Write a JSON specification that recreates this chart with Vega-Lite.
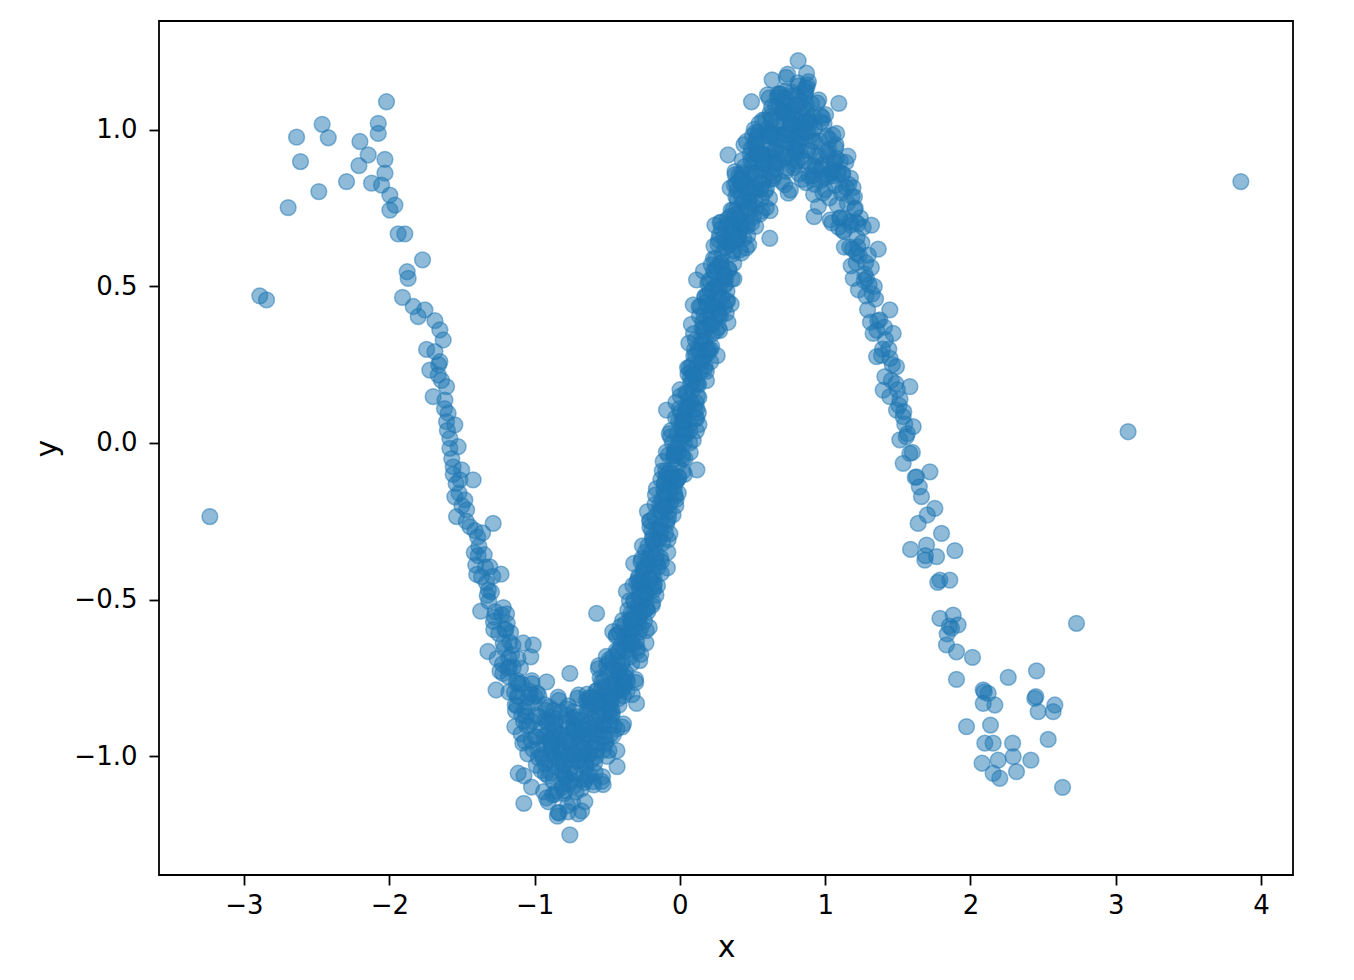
{
"$schema":"https://vega.github.io/schema/vega-lite/v6.json",
"width":1134,"height":854,
"autosize":{"type":"none"},
"padding":{"left":159,"top":21,"right":61,"bottom":105},
"background":"white",
"config":{"view":{"stroke":"#000","strokeWidth":1.8},"font":"DejaVu Sans",
"axis":{"domain":false,"grid":false,"tickColor":"#000","tickWidth":1.8,"tickSize":10,"labelFont":"DejaVu Sans","labelFontSize":26,"labelColor":"#000","titleFont":"DejaVu Sans","titleFontSize":30,"titleFontWeight":"normal","titleColor":"#000"}},
"data":{"values":[
{"x":-2.019,"y":1.090},{"x":-2.076,"y":1.021},{"x":-2.076,"y":0.989},{"x":-2.462,"y":1.018},{"x":-2.420,"y":0.975},{"x":-2.638,"y":0.977},{"x":-2.611,"y":0.899},{"x":-2.202,"y":0.963},{"x":-2.145,"y":0.920},{"x":-2.209,"y":0.886},{"x":-2.030,"y":0.906},{"x":-2.030,"y":0.862},{"x":-2.294,"y":0.835},{"x":-2.122,"y":0.830},{"x":-2.053,"y":0.824},{"x":-2.485,"y":0.803},{"x":-1.996,"y":0.792},{"x":-1.961,"y":0.760},{"x":-1.996,"y":0.744},{"x":-2.696,"y":0.752},{"x":-1.939,"y":0.668},{"x":-1.893,"y":0.668},{"x":-1.771,"y":0.585},{"x":-1.877,"y":0.547},{"x":-1.870,"y":0.526},{"x":-2.891,"y":0.470},{"x":-2.845,"y":0.457},{"x":-1.909,"y":0.465},{"x":-1.835,"y":0.436},{"x":-1.755,"y":0.425},{"x":-1.801,"y":0.404},{"x":-1.686,"y":0.391},{"x":-1.652,"y":0.361},{"x":-1.629,"y":0.329},{"x":-1.743,"y":0.299},{"x":-1.686,"y":0.292},{"x":-1.652,"y":0.260},{"x":-1.721,"y":0.233},{"x":-1.663,"y":0.217},{"x":-1.698,"y":0.148},{"x":-1.606,"y":0.180},{"x":-1.617,"y":0.137},{"x":-1.595,"y":0.095},{"x":-1.549,"y":0.058},{"x":-1.606,"y":0.068},{"x":-1.583,"y":0.015},{"x":-1.526,"y":-0.012},{"x":-1.583,"y":-0.017},{"x":-1.560,"y":-0.076},{"x":-1.502,"y":-0.086},{"x":-1.514,"y":-0.118},{"x":-1.423,"y":-0.118},{"x":-1.549,"y":-0.172},{"x":-1.480,"y":-0.182},{"x":-1.537,"y":-0.235},{"x":-1.468,"y":-0.214},{"x":-3.235,"y":-0.235},{"x":-1.445,"y":-0.267},
{"x":-1.57,"y":-0.05},{"x":-1.54,"y":-0.13},{"x":-1.52,"y":-0.16},{"x":-1.50,"y":-0.20},{"x":-1.47,"y":-0.25},{"x":-1.56,"y":-0.10},{"x":-1.60,"y":0.04},{"x":-1.62,"y":0.11},{"x":-1.64,"y":0.20},{"x":-1.66,"y":0.25},
{"x":-1.392,"y":-0.30},{"x":-1.405,"y":-0.39},{"x":-1.388,"y":-0.36},{"x":-1.41,"y":-0.28},{"x":-1.398,"y":-0.42},{"x":-1.383,"y":-0.33},{"x":-1.415,"y":-0.35},
{"x":-1.338,"y":-0.397},{"x":-1.371,"y":-0.537},{"x":-1.347,"y":-0.357},{"x":-1.331,"y":-0.447},{"x":-1.358,"y":-0.287},{"x":-1.326,"y":-0.487},{"x":-1.365,"y":-0.427},
{"x":-1.288,"y":-0.426},{"x":-1.321,"y":-0.666},{"x":-1.297,"y":-0.476},{"x":-1.281,"y":-0.596},{"x":-1.308,"y":-0.396},{"x":-1.276,"y":-0.556},{"x":-1.315,"y":-0.506},
{"x":-1.238,"y":-0.729},{"x":-1.271,"y":-0.539},{"x":-1.247,"y":-0.609},{"x":-1.231,"y":-0.419},{"x":-1.258,"y":-0.689},{"x":-1.226,"y":-0.549},{"x":-1.265,"y":-0.789},
{"x":-1.188,"y":-0.576},{"x":-1.221,"y":-0.706},{"x":-1.197,"y":-0.596},{"x":-1.181,"y":-0.746},{"x":-1.208,"y":-0.656},{"x":-1.176,"y":-0.796},{"x":-1.215,"y":-0.526},
{"x":-1.138,"y":-0.796},{"x":-1.171,"y":-0.636},{"x":-1.147,"y":-0.716},{"x":-1.131,"y":-0.856},{"x":-1.158,"y":-0.676},{"x":-1.126,"y":-0.766},{"x":-1.165,"y":-0.606},
{"x":-1.088,"y":-0.869},{"x":-1.121,"y":-0.809},{"x":-1.097,"y":-0.719},{"x":-1.081,"y":-0.959},{"x":-1.108,"y":-0.769},{"x":-1.076,"y":-0.889},{"x":-1.115,"y":-0.689},
{"x":-1.038,"y":-0.903},{"x":-1.071,"y":-0.853},{"x":-1.047,"y":-0.993},{"x":-1.031,"y":-0.803},{"x":-1.058,"y":-0.873},{"x":-1.026,"y":-0.683},{"x":-1.065,"y":-0.953},{"x":-1.043,"y":-0.813},
{"x":-1.021,"y":-1.099},{"x":-0.997,"y":-0.809},{"x":-0.981,"y":-0.939},{"x":-1.008,"y":-0.829},{"x":-0.976,"y":-0.979},{"x":-1.015,"y":-0.889},{"x":-0.988,"y":-1.029},{"x":-1.019,"y":-0.759},
{"x":-0.947,"y":-0.996},{"x":-0.931,"y":-0.836},{"x":-0.958,"y":-0.916},{"x":-0.926,"y":-1.056},{"x":-0.965,"y":-0.876},{"x":-0.938,"y":-0.966},{"x":-0.971,"y":-0.806},{"x":-0.944,"y":-1.006},
{"x":-0.881,"y":-0.974},{"x":-0.908,"y":-0.884},{"x":-0.876,"y":-1.124},{"x":-0.915,"y":-0.934},{"x":-0.888,"y":-1.054},{"x":-0.921,"y":-0.854},{"x":-0.897,"y":-1.014},{"x":-0.884,"y":-0.964},
{"x":-0.858,"y":-1.122},{"x":-0.826,"y":-0.932},{"x":-0.865,"y":-1.002},{"x":-0.838,"y":-0.812},{"x":-0.871,"y":-1.082},{"x":-0.847,"y":-0.942},{"x":-0.831,"y":-1.182},{"x":-0.856,"y":-0.892},{"x":-0.834,"y":-1.022},{"x":-0.862,"y":-0.912},
{"x":-0.788,"y":-1.070},{"x":-0.821,"y":-0.980},{"x":-0.797,"y":-1.120},{"x":-0.781,"y":-0.850},{"x":-0.808,"y":-1.050},{"x":-0.776,"y":-0.890},{"x":-0.815,"y":-0.970},{"x":-0.792,"y":-1.110},{"x":-0.824,"y":-0.930},{"x":-0.802,"y":-1.020},
{"x":-0.731,"y":-0.858},{"x":-0.758,"y":-1.058},{"x":-0.726,"y":-0.998},{"x":-0.765,"y":-0.908},{"x":-0.738,"y":-1.148},{"x":-0.771,"y":-0.958},{"x":-0.747,"y":-1.078},{"x":-0.733,"y":-0.878},{"x":-0.754,"y":-1.038},{"x":-0.729,"y":-0.988},
{"x":-0.715,"y":-1.115},{"x":-0.688,"y":-0.925},{"x":-0.721,"y":-0.995},{"x":-0.697,"y":-0.805},{"x":-0.681,"y":-1.075},{"x":-0.708,"y":-0.935},{"x":-0.676,"y":-1.175},{"x":-0.712,"y":-0.885},{"x":-0.692,"y":-1.015},{"x":-0.719,"y":-0.905},
{"x":-0.647,"y":-1.034},{"x":-0.631,"y":-0.944},{"x":-0.658,"y":-1.084},{"x":-0.626,"y":-0.814},{"x":-0.665,"y":-1.014},{"x":-0.638,"y":-0.854},{"x":-0.671,"y":-0.934},{"x":-0.644,"y":-1.074},{"x":-0.634,"y":-0.894},{"x":-0.655,"y":-0.984},
{"x":-0.576,"y":-0.792},{"x":-0.615,"y":-0.992},{"x":-0.588,"y":-0.932},{"x":-0.621,"y":-0.842},{"x":-0.597,"y":-1.082},{"x":-0.581,"y":-0.892},{"x":-0.608,"y":-1.012},{"x":-0.579,"y":-0.812},{"x":-0.611,"y":-0.972},{"x":-0.586,"y":-0.922},{"x":-0.618,"y":-1.062},
{"x":-0.547,"y":-0.831},{"x":-0.531,"y":-0.901},{"x":-0.558,"y":-0.711},{"x":-0.526,"y":-0.981},{"x":-0.565,"y":-0.841},{"x":-0.538,"y":-1.081},{"x":-0.571,"y":-0.791},{"x":-0.544,"y":-0.921},{"x":-0.529,"y":-0.811},{"x":-0.556,"y":-0.961},{"x":-0.523,"y":-0.871},
{"x":-0.515,"y":-0.962},{"x":-0.488,"y":-0.692},{"x":-0.521,"y":-0.892},{"x":-0.497,"y":-0.732},{"x":-0.481,"y":-0.812},{"x":-0.508,"y":-0.952},{"x":-0.476,"y":-0.772},{"x":-0.513,"y":-0.862},{"x":-0.491,"y":-0.702},{"x":-0.519,"y":-0.902},{"x":-0.503,"y":-0.842},
{"x":-0.431,"y":-0.693},{"x":-0.458,"y":-0.933},{"x":-0.426,"y":-0.743},{"x":-0.465,"y":-0.863},{"x":-0.438,"y":-0.663},{"x":-0.471,"y":-0.823},{"x":-0.447,"y":-0.773},{"x":-0.433,"y":-0.913},{"x":-0.456,"y":-0.723},{"x":-0.428,"y":-0.793},{"x":-0.462,"y":-0.603},
{"x":-0.388,"y":-0.807},{"x":-0.421,"y":-0.667},{"x":-0.397,"y":-0.907},{"x":-0.381,"y":-0.617},{"x":-0.408,"y":-0.747},{"x":-0.376,"y":-0.637},{"x":-0.415,"y":-0.787},{"x":-0.391,"y":-0.697},{"x":-0.419,"y":-0.837},{"x":-0.394,"y":-0.567},{"x":-0.384,"y":-0.767},
{"x":-0.358,"y":-0.534},{"x":-0.326,"y":-0.614},{"x":-0.365,"y":-0.754},{"x":-0.338,"y":-0.574},{"x":-0.371,"y":-0.664},{"x":-0.347,"y":-0.504},{"x":-0.331,"y":-0.704},{"x":-0.356,"y":-0.644},{"x":-0.328,"y":-0.554},{"x":-0.364,"y":-0.794},{"x":-0.341,"y":-0.604},
{"x":-0.321,"y":-0.645},{"x":-0.297,"y":-0.445},{"x":-0.281,"y":-0.605},{"x":-0.308,"y":-0.555},{"x":-0.276,"y":-0.695},{"x":-0.315,"y":-0.505},{"x":-0.288,"y":-0.575},{"x":-0.318,"y":-0.385},{"x":-0.294,"y":-0.655},{"x":-0.284,"y":-0.515},{"x":-0.305,"y":-0.755},{"x":-0.279,"y":-0.465},
{"x":-0.265,"y":-0.509},{"x":-0.238,"y":-0.399},{"x":-0.271,"y":-0.549},{"x":-0.247,"y":-0.459},{"x":-0.231,"y":-0.599},{"x":-0.258,"y":-0.329},{"x":-0.226,"y":-0.529},{"x":-0.262,"y":-0.369},{"x":-0.241,"y":-0.449},{"x":-0.268,"y":-0.589},{"x":-0.252,"y":-0.409},{"x":-0.234,"y":-0.499},
{"x":-0.208,"y":-0.249},{"x":-0.176,"y":-0.449},{"x":-0.215,"y":-0.389},{"x":-0.188,"y":-0.299},{"x":-0.221,"y":-0.539},{"x":-0.197,"y":-0.349},{"x":-0.181,"y":-0.469},{"x":-0.206,"y":-0.269},{"x":-0.178,"y":-0.429},{"x":-0.213,"y":-0.379},{"x":-0.191,"y":-0.519},{"x":-0.219,"y":-0.329},
{"x":-0.147,"y":-0.306},{"x":-0.131,"y":-0.116},{"x":-0.158,"y":-0.386},{"x":-0.126,"y":-0.246},{"x":-0.165,"y":-0.486},{"x":-0.138,"y":-0.196},{"x":-0.171,"y":-0.326},{"x":-0.145,"y":-0.216},{"x":-0.133,"y":-0.366},{"x":-0.156,"y":-0.276},{"x":-0.128,"y":-0.416},{"x":-0.162,"y":-0.146},
{"x":-0.088,"y":-0.249},{"x":-0.121,"y":-0.089},{"x":-0.097,"y":-0.169},{"x":-0.081,"y":-0.309},{"x":-0.108,"y":-0.129},{"x":-0.076,"y":-0.219},{"x":-0.115,"y":-0.059},{"x":-0.091,"y":-0.259},{"x":-0.119,"y":-0.199},{"x":-0.095,"y":-0.109},{"x":-0.083,"y":-0.349},{"x":-0.105,"y":-0.159},
{"x":-0.026,"y":-0.180},{"x":-0.065,"y":0.020},{"x":-0.038,"y":-0.140},{"x":-0.071,"y":-0.090},{"x":-0.047,"y":-0.230},{"x":-0.031,"y":-0.040},{"x":-0.058,"y":-0.110},{"x":-0.029,"y":0.080},{"x":-0.063,"y":-0.190},{"x":-0.041,"y":-0.050},{"x":-0.069,"y":-0.290},{"x":-0.052,"y":0.000},
{"x":-0.008,"y":-0.030},{"x":0.024,"y":0.080},{"x":-0.015,"y":-0.070},{"x":0.012,"y":0.020},{"x":-0.021,"y":-0.120},{"x":0.003,"y":0.150},{"x":0.019,"y":-0.050},{"x":-0.004,"y":0.110},{"x":0.028,"y":0.030},{"x":-0.011,"y":-0.110},{"x":0.009,"y":0.070},{"x":-0.018,"y":-0.020},
{"x":0.053,"y":0.240},{"x":0.069,"y":0.040},{"x":0.042,"y":0.100},{"x":0.074,"y":0.190},{"x":0.035,"y":-0.050},{"x":0.062,"y":0.140},{"x":0.029,"y":0.020},{"x":0.056,"y":0.220},{"x":0.067,"y":0.060},{"x":0.045,"y":0.110},{"x":0.071,"y":-0.030},{"x":0.038,"y":0.160},
{"x":0.112,"y":0.189},{"x":0.079,"y":0.379},{"x":0.103,"y":0.109},{"x":0.119,"y":0.249},{"x":0.092,"y":0.009},{"x":0.124,"y":0.299},{"x":0.085,"y":0.169},{"x":0.108,"y":0.279},{"x":0.081,"y":0.129},{"x":0.097,"y":0.219},{"x":0.116,"y":0.079},{"x":0.094,"y":0.349},
{"x":0.174,"y":0.246},{"x":0.135,"y":0.406},{"x":0.162,"y":0.326},{"x":0.129,"y":0.186},{"x":0.153,"y":0.366},{"x":0.169,"y":0.276},{"x":0.142,"y":0.436},{"x":0.171,"y":0.236},{"x":0.137,"y":0.296},{"x":0.158,"y":0.386},{"x":0.131,"y":0.146},{"x":0.149,"y":0.336},
{"x":0.219,"y":0.309},{"x":0.192,"y":0.509},{"x":0.224,"y":0.349},{"x":0.185,"y":0.399},{"x":0.212,"y":0.259},{"x":0.179,"y":0.449},{"x":0.203,"y":0.379},{"x":0.216,"y":0.569},{"x":0.188,"y":0.299},{"x":0.221,"y":0.439},{"x":0.183,"y":0.199},{"x":0.207,"y":0.489},
{"x":0.229,"y":0.449},{"x":0.253,"y":0.559},{"x":0.269,"y":0.409},{"x":0.242,"y":0.499},{"x":0.274,"y":0.359},{"x":0.235,"y":0.629},{"x":0.262,"y":0.429},{"x":0.231,"y":0.589},{"x":0.256,"y":0.509},{"x":0.266,"y":0.369},{"x":0.244,"y":0.549},{"x":0.272,"y":0.459},
{"x":0.285,"y":0.705},{"x":0.312,"y":0.505},{"x":0.279,"y":0.565},{"x":0.303,"y":0.655},{"x":0.319,"y":0.415},{"x":0.292,"y":0.605},{"x":0.324,"y":0.485},{"x":0.287,"y":0.685},{"x":0.314,"y":0.525},{"x":0.281,"y":0.575},{"x":0.306,"y":0.435},{"x":0.317,"y":0.625},
{"x":0.342,"y":0.634},{"x":0.374,"y":0.824},{"x":0.335,"y":0.554},{"x":0.362,"y":0.694},{"x":0.329,"y":0.454},{"x":0.353,"y":0.744},{"x":0.369,"y":0.614},{"x":0.345,"y":0.724},{"x":0.371,"y":0.574},{"x":0.338,"y":0.664},{"x":0.358,"y":0.524},
{"x":0.379,"y":0.867},{"x":0.403,"y":0.667},{"x":0.419,"y":0.827},{"x":0.392,"y":0.747},{"x":0.424,"y":0.607},{"x":0.385,"y":0.787},{"x":0.412,"y":0.697},{"x":0.381,"y":0.857},{"x":0.406,"y":0.657},{"x":0.417,"y":0.717},{"x":0.395,"y":0.807},
{"x":0.474,"y":0.633},{"x":0.435,"y":0.823},{"x":0.462,"y":0.703},{"x":0.429,"y":0.903},{"x":0.453,"y":0.743},{"x":0.469,"y":0.793},{"x":0.442,"y":0.653},{"x":0.471,"y":0.843},{"x":0.437,"y":0.773},{"x":0.458,"y":0.963},{"x":0.433,"y":0.693},
{"x":0.503,"y":0.892},{"x":0.519,"y":0.752},{"x":0.492,"y":0.942},{"x":0.524,"y":0.812},{"x":0.485,"y":0.922},{"x":0.512,"y":0.772},{"x":0.479,"y":0.862},{"x":0.506,"y":0.722},{"x":0.521,"y":0.992},{"x":0.496,"y":0.792},{"x":0.526,"y":0.952},
{"x":0.535,"y":0.921},{"x":0.562,"y":0.781},{"x":0.529,"y":0.961},{"x":0.553,"y":0.871},{"x":0.569,"y":1.031},{"x":0.542,"y":0.831},{"x":0.574,"y":0.891},{"x":0.538,"y":0.981},{"x":0.565,"y":0.741},{"x":0.531,"y":0.931},{"x":0.556,"y":0.811},
{"x":0.619,"y":1.052},{"x":0.592,"y":0.892},{"x":0.624,"y":0.942},{"x":0.585,"y":0.802},{"x":0.612,"y":0.992},{"x":0.579,"y":0.922},{"x":0.603,"y":1.112},{"x":0.616,"y":0.842},{"x":0.594,"y":0.982},{"x":0.621,"y":0.742},{"x":0.588,"y":1.032},
{"x":0.662,"y":0.934},{"x":0.629,"y":1.044},{"x":0.653,"y":0.894},{"x":0.669,"y":0.984},{"x":0.642,"y":0.844},{"x":0.674,"y":1.114},{"x":0.635,"y":0.914},{"x":0.658,"y":1.074},{"x":0.633,"y":0.994},{"x":0.647,"y":0.854},
{"x":0.719,"y":1.055},{"x":0.692,"y":0.965},{"x":0.724,"y":1.125},{"x":0.685,"y":0.925},{"x":0.712,"y":0.985},{"x":0.679,"y":1.075},{"x":0.703,"y":0.835},{"x":0.716,"y":1.025},{"x":0.694,"y":0.905},{"x":0.722,"y":1.105},
{"x":0.735,"y":0.958},{"x":0.762,"y":1.008},{"x":0.729,"y":0.868},{"x":0.753,"y":1.058},{"x":0.769,"y":0.988},{"x":0.742,"y":1.178},{"x":0.774,"y":0.908},{"x":0.738,"y":1.048},{"x":0.761,"y":0.808},{"x":0.731,"y":1.098},
{"x":0.803,"y":0.970},{"x":0.819,"y":1.080},{"x":0.792,"y":0.930},{"x":0.824,"y":1.020},{"x":0.785,"y":0.880},{"x":0.812,"y":1.150},{"x":0.779,"y":0.950},{"x":0.806,"y":1.110},{"x":0.821,"y":1.030},{"x":0.794,"y":0.890},
{"x":0.874,"y":1.062},{"x":0.835,"y":0.972},{"x":0.862,"y":1.132},{"x":0.829,"y":0.932},{"x":0.853,"y":0.992},{"x":0.869,"y":1.082},{"x":0.842,"y":0.842},{"x":0.871,"y":1.032},{"x":0.838,"y":0.912},{"x":0.864,"y":1.112},
{"x":0.879,"y":0.934},{"x":0.903,"y":0.984},{"x":0.919,"y":0.844},{"x":0.892,"y":1.034},{"x":0.924,"y":0.964},{"x":0.885,"y":1.154},{"x":0.912,"y":0.884},{"x":0.881,"y":1.024},
{"x":0.953,"y":0.756},{"x":0.969,"y":1.046},{"x":0.942,"y":0.916},{"x":0.974,"y":1.026},{"x":0.935,"y":0.876},{"x":0.962,"y":0.966},{"x":0.929,"y":0.826},{"x":0.956,"y":1.096},
{"x":1.019,"y":0.859},{"x":0.992,"y":1.019},{"x":1.024,"y":0.939},{"x":0.985,"y":0.799},{"x":1.012,"y":0.979},{"x":0.979,"y":0.889},{"x":1.003,"y":1.049},{"x":1.016,"y":0.849},
{"x":1.042,"y":0.863},{"x":1.074,"y":0.953},{"x":1.035,"y":0.713},{"x":1.062,"y":0.903},{"x":1.029,"y":0.783},{"x":1.053,"y":0.983},{"x":1.069,"y":0.823},{"x":1.046,"y":0.873},
{"x":1.124,"y":0.679},{"x":1.085,"y":0.869},{"x":1.112,"y":0.799},{"x":1.079,"y":0.989},{"x":1.103,"y":0.719},{"x":1.119,"y":0.859},{"x":1.092,"y":0.689},
{"x":1.174,"y":0.846},{"x":1.135,"y":0.716},{"x":1.162,"y":0.826},{"x":1.129,"y":0.676},{"x":1.153,"y":0.766},{"x":1.169,"y":0.626},{"x":1.142,"y":0.896},
{"x":1.224,"y":0.626},{"x":1.185,"y":0.786},{"x":1.212,"y":0.706},{"x":1.179,"y":0.566},{"x":1.203,"y":0.746},{"x":1.219,"y":0.656},{"x":1.192,"y":0.816},
{"x":1.274,"y":0.539},{"x":1.235,"y":0.599},{"x":1.262,"y":0.689},{"x":1.229,"y":0.489},{"x":1.253,"y":0.639},{"x":1.269,"y":0.519},{"x":1.242,"y":0.719},
{"x":1.324,"y":0.476},{"x":1.285,"y":0.526},{"x":1.312,"y":0.386},{"x":1.279,"y":0.576},{"x":1.303,"y":0.506},{"x":1.319,"y":0.696},{"x":1.292,"y":0.426},
{"x":-1.218,"y":-0.736},{"x":-1.193,"y":-0.546},{"x":-1.178,"y":-0.686},{"x":-1.204,"y":-0.596},
{"x":-1.136,"y":-0.906},{"x":-1.173,"y":-0.716},{"x":-1.149,"y":-0.646},{"x":-1.133,"y":-0.836},
{"x":-1.111,"y":-0.809},{"x":-1.118,"y":-0.759},{"x":-1.093,"y":-0.929},{"x":-1.078,"y":-0.639},
{"x":-1.054,"y":-0.903},{"x":-1.036,"y":-0.793},{"x":-1.073,"y":-1.063},{"x":-1.049,"y":-0.843},
{"x":-0.983,"y":-0.799},{"x":-1.011,"y":-0.979},{"x":-1.018,"y":-0.769},{"x":-0.993,"y":-0.939},
{"x":-0.928,"y":-0.886},{"x":-0.954,"y":-1.046},{"x":-0.936,"y":-0.936},{"x":-0.973,"y":-1.006},
{"x":-0.899,"y":-0.844},{"x":-0.883,"y":-0.984},{"x":-0.911,"y":-0.894},{"x":-0.918,"y":-1.134},{"x":-0.893,"y":-0.944},{"x":-0.878,"y":-0.874},{"x":-0.904,"y":-1.064},{"x":-0.886,"y":-0.974},
{"x":-0.873,"y":-0.942},{"x":-0.849,"y":-1.112},{"x":-0.833,"y":-0.822},{"x":-0.861,"y":-1.032},{"x":-0.868,"y":-0.922},{"x":-0.843,"y":-1.192},{"x":-0.828,"y":-0.972},{"x":-0.854,"y":-0.882},
{"x":-0.786,"y":-1.070},{"x":-0.823,"y":-0.860},{"x":-0.799,"y":-1.030},{"x":-0.783,"y":-0.940},{"x":-0.811,"y":-1.100},{"x":-0.818,"y":-0.990},{"x":-0.793,"y":-1.060},{"x":-0.778,"y":-0.870},
{"x":-0.754,"y":-1.008},{"x":-0.736,"y":-0.918},{"x":-0.773,"y":-1.158},{"x":-0.749,"y":-0.968},{"x":-0.733,"y":-0.898},{"x":-0.761,"y":-1.088},{"x":-0.768,"y":-0.998},{"x":-0.743,"y":-0.948},
{"x":-0.678,"y":-1.105},{"x":-0.704,"y":-0.815},{"x":-0.686,"y":-1.025},{"x":-0.723,"y":-0.915},{"x":-0.699,"y":-1.185},{"x":-0.683,"y":-0.965},{"x":-0.711,"y":-0.875},{"x":-0.718,"y":-1.055},
{"x":-0.643,"y":-0.824},{"x":-0.628,"y":-0.994},{"x":-0.654,"y":-0.904},{"x":-0.636,"y":-1.064},{"x":-0.673,"y":-0.954},{"x":-0.649,"y":-1.024},{"x":-0.633,"y":-0.834},{"x":-0.661,"y":-0.974},
{"x":-0.618,"y":-0.852},{"x":-0.593,"y":-1.092},{"x":-0.578,"y":-0.902},{"x":-0.604,"y":-0.832},{"x":-0.586,"y":-1.022},{"x":-0.623,"y":-0.932},{"x":-0.599,"y":-0.882},{"x":-0.583,"y":-1.052},
{"x":-0.561,"y":-0.721},{"x":-0.568,"y":-0.931},{"x":-0.543,"y":-0.821},{"x":-0.528,"y":-1.091},{"x":-0.554,"y":-0.871},{"x":-0.536,"y":-0.781},{"x":-0.573,"y":-0.961},{"x":-0.549,"y":-0.751},
{"x":-0.483,"y":-0.871},{"x":-0.511,"y":-0.781},{"x":-0.518,"y":-0.941},{"x":-0.493,"y":-0.831},{"x":-0.478,"y":-0.901},{"x":-0.504,"y":-0.711},{"x":-0.486,"y":-0.851},{"x":-0.523,"y":-0.761},{"x":-0.499,"y":-1.001},{"x":-0.481,"y":-0.811},
{"x":-0.461,"y":-0.683},{"x":-0.468,"y":-0.873},{"x":-0.443,"y":-0.783},{"x":-0.428,"y":-0.733},{"x":-0.454,"y":-0.903},{"x":-0.436,"y":-0.613},{"x":-0.473,"y":-0.823},{"x":-0.449,"y":-0.713},{"x":-0.433,"y":-0.983},{"x":-0.459,"y":-0.763},
{"x":-0.418,"y":-0.607},{"x":-0.393,"y":-0.787},{"x":-0.378,"y":-0.577},{"x":-0.404,"y":-0.747},{"x":-0.386,"y":-0.657},{"x":-0.423,"y":-0.817},{"x":-0.399,"y":-0.707},{"x":-0.383,"y":-0.777},{"x":-0.411,"y":-0.587},{"x":-0.416,"y":-0.727},
{"x":-0.343,"y":-0.564},{"x":-0.328,"y":-0.804},{"x":-0.354,"y":-0.614},{"x":-0.336,"y":-0.544},{"x":-0.373,"y":-0.734},{"x":-0.349,"y":-0.644},{"x":-0.333,"y":-0.594},{"x":-0.361,"y":-0.764},{"x":-0.368,"y":-0.474},{"x":-0.345,"y":-0.684},
{"x":-0.278,"y":-0.495},{"x":-0.304,"y":-0.765},{"x":-0.286,"y":-0.545},{"x":-0.323,"y":-0.455},{"x":-0.299,"y":-0.635},{"x":-0.283,"y":-0.425},{"x":-0.311,"y":-0.595},{"x":-0.318,"y":-0.505},{"x":-0.293,"y":-0.665},{"x":-0.281,"y":-0.555},
{"x":-0.254,"y":-0.539},{"x":-0.236,"y":-0.349},{"x":-0.273,"y":-0.489},{"x":-0.249,"y":-0.399},{"x":-0.233,"y":-0.639},{"x":-0.261,"y":-0.449},{"x":-0.268,"y":-0.379},{"x":-0.243,"y":-0.569},{"x":-0.228,"y":-0.479},{"x":-0.256,"y":-0.429},
{"x":-0.186,"y":-0.509},{"x":-0.223,"y":-0.219},{"x":-0.199,"y":-0.429},{"x":-0.183,"y":-0.319},{"x":-0.211,"y":-0.589},{"x":-0.218,"y":-0.369},{"x":-0.193,"y":-0.279},{"x":-0.178,"y":-0.459},{"x":-0.204,"y":-0.249},{"x":-0.188,"y":-0.419},
{"x":-0.173,"y":-0.236},{"x":-0.149,"y":-0.396},{"x":-0.133,"y":-0.286},{"x":-0.161,"y":-0.356},{"x":-0.168,"y":-0.166},{"x":-0.143,"y":-0.306},{"x":-0.128,"y":-0.216},{"x":-0.154,"y":-0.456},{"x":-0.136,"y":-0.266},{"x":-0.171,"y":-0.196},
{"x":-0.099,"y":-0.289},{"x":-0.083,"y":-0.199},{"x":-0.111,"y":-0.149},{"x":-0.118,"y":-0.319},{"x":-0.093,"y":-0.029},{"x":-0.078,"y":-0.239},{"x":-0.104,"y":-0.129},{"x":-0.086,"y":-0.399},{"x":-0.123,"y":-0.179},{"x":-0.097,"y":-0.089},
{"x":-0.033,"y":-0.170},{"x":-0.061,"y":0.040},{"x":-0.068,"y":-0.130},{"x":-0.043,"y":-0.040},{"x":-0.028,"y":-0.200},{"x":-0.054,"y":-0.100},{"x":-0.036,"y":-0.160},{"x":-0.073,"y":0.030},{"x":-0.049,"y":-0.110},{"x":-0.035,"y":-0.020},
{"x":-0.011,"y":-0.160},{"x":-0.018,"y":0.030},{"x":0.007,"y":0.100},{"x":0.022,"y":-0.090},{"x":-0.004,"y":0.000},{"x":0.014,"y":0.050},{"x":-0.023,"y":-0.120},{"x":0.001,"y":0.170},{"x":0.017,"y":-0.040},{"x":-0.009,"y":0.070},
{"x":0.032,"y":-0.100},{"x":0.057,"y":0.120},{"x":0.072,"y":0.210},{"x":0.046,"y":0.030},{"x":0.064,"y":0.240},{"x":0.027,"y":0.070},{"x":0.051,"y":0.160},{"x":0.067,"y":0.000},{"x":0.039,"y":0.110},{"x":0.034,"y":0.040},
{"x":0.107,"y":0.329},{"x":0.122,"y":0.189},{"x":0.096,"y":0.279},{"x":0.114,"y":0.039},{"x":0.077,"y":0.229},{"x":0.101,"y":0.299},{"x":0.117,"y":0.109},{"x":0.089,"y":0.199},{"x":0.082,"y":0.249},{"x":0.109,"y":0.079},
{"x":0.172,"y":0.466},{"x":0.146,"y":0.256},{"x":0.164,"y":0.366},{"x":0.127,"y":0.096},{"x":0.151,"y":0.316},{"x":0.167,"y":0.406},{"x":0.139,"y":0.226},{"x":0.132,"y":0.436},{"x":0.157,"y":0.266},{"x":0.170,"y":0.356},
{"x":0.196,"y":0.289},{"x":0.214,"y":0.399},{"x":0.177,"y":0.329},{"x":0.201,"y":0.519},{"x":0.217,"y":0.379},{"x":0.189,"y":0.469},{"x":0.182,"y":0.229},{"x":0.207,"y":0.419},{"x":0.222,"y":0.489},{"x":0.198,"y":0.299},
{"x":0.264,"y":0.479},{"x":0.227,"y":0.529},{"x":0.251,"y":0.359},{"x":0.267,"y":0.649},{"x":0.239,"y":0.439},{"x":0.232,"y":0.549},{"x":0.257,"y":0.279},{"x":0.272,"y":0.499},{"x":0.246,"y":0.589},{"x":0.266,"y":0.409},
{"x":0.277,"y":0.705},{"x":0.301,"y":0.535},{"x":0.317,"y":0.625},{"x":0.289,"y":0.465},{"x":0.282,"y":0.575},{"x":0.307,"y":0.505},{"x":0.322,"y":0.695},{"x":0.296,"y":0.555},{"x":0.314,"y":0.645},{"x":0.279,"y":0.405},
{"x":0.351,"y":0.674},{"x":0.367,"y":0.744},{"x":0.339,"y":0.554},{"x":0.332,"y":0.644},{"x":0.357,"y":0.694},{"x":0.372,"y":0.524},{"x":0.346,"y":0.814},{"x":0.364,"y":0.604},{"x":0.327,"y":0.714},{"x":0.353,"y":0.444},
{"x":0.417,"y":0.737},{"x":0.389,"y":0.827},{"x":0.382,"y":0.647},{"x":0.407,"y":0.857},{"x":0.422,"y":0.687},{"x":0.396,"y":0.777},{"x":0.414,"y":0.617},{"x":0.377,"y":0.727},{"x":0.401,"y":0.657},{"x":0.419,"y":0.847},
{"x":0.439,"y":0.773},{"x":0.432,"y":0.863},{"x":0.457,"y":0.623},{"x":0.472,"y":0.813},{"x":0.446,"y":0.883},{"x":0.464,"y":0.693},{"x":0.427,"y":0.783},{"x":0.451,"y":0.833},{"x":0.467,"y":0.663},{"x":0.441,"y":0.953},
{"x":0.482,"y":0.802},{"x":0.507,"y":0.912},{"x":0.522,"y":0.692},{"x":0.496,"y":0.862},{"x":0.514,"y":0.952},{"x":0.477,"y":0.772},{"x":0.501,"y":0.982},{"x":0.517,"y":0.812},{"x":0.489,"y":0.902},{"x":0.484,"y":0.742},
{"x":0.557,"y":0.901},{"x":0.572,"y":0.831},{"x":0.546,"y":1.021},{"x":0.564,"y":0.881},{"x":0.527,"y":0.971},{"x":0.551,"y":0.731},{"x":0.567,"y":0.921},{"x":0.539,"y":0.991},
{"x":0.582,"y":0.842},{"x":0.607,"y":0.932},{"x":0.622,"y":0.982},{"x":0.596,"y":0.812},{"x":0.614,"y":1.102},{"x":0.577,"y":0.892},{"x":0.601,"y":1.002},{"x":0.617,"y":0.782},
{"x":0.639,"y":0.984},{"x":0.632,"y":1.074},{"x":0.657,"y":0.894},{"x":0.672,"y":1.104},{"x":0.646,"y":0.934},{"x":0.664,"y":1.024},{"x":0.627,"y":0.864},{"x":0.651,"y":0.974},
{"x":0.717,"y":0.925},{"x":0.689,"y":1.115},{"x":0.682,"y":0.975},{"x":0.707,"y":1.065},{"x":0.722,"y":0.825},{"x":0.696,"y":1.015},{"x":0.714,"y":1.085},{"x":0.677,"y":0.895},
{"x":0.751,"y":0.998},{"x":0.767,"y":1.048},{"x":0.739,"y":0.878},{"x":0.732,"y":1.168},{"x":0.757,"y":0.958},{"x":0.772,"y":1.068},{"x":0.746,"y":0.798},{"x":0.764,"y":1.018},
{"x":0.777,"y":1.110},{"x":0.801,"y":0.930},{"x":0.817,"y":1.140},{"x":0.789,"y":0.970},{"x":0.782,"y":1.060},{"x":0.807,"y":0.900},{"x":0.822,"y":1.010},{"x":0.796,"y":0.940},
{"x":0.864,"y":1.122},{"x":0.827,"y":0.982},{"x":0.851,"y":1.072},{"x":0.867,"y":0.832},{"x":0.839,"y":1.022},{"x":0.832,"y":1.092},{"x":0.857,"y":0.902},{"x":0.872,"y":0.992},
{"x":0.896,"y":1.024},{"x":0.914,"y":0.854},{"x":0.877,"y":1.144},{"x":0.901,"y":0.934},{"x":0.917,"y":1.044},{"x":0.889,"y":0.854},{"x":0.882,"y":0.994},{"x":0.907,"y":1.084},
{"x":0.972,"y":0.876},{"x":0.946,"y":1.086},{"x":0.964,"y":0.916},{"x":0.927,"y":1.006},
{"x":1.001,"y":0.809},{"x":1.017,"y":0.919},{"x":0.989,"y":0.849},{"x":0.982,"y":1.039},
{"x":1.057,"y":0.853},{"x":1.072,"y":0.943},{"x":1.046,"y":0.703},{"x":1.064,"y":0.893},
{"x":1.077,"y":0.909},{"x":1.101,"y":0.719},{"x":1.117,"y":0.809},{"x":1.089,"y":0.859},
{"x":1.132,"y":0.626},{"x":1.157,"y":0.916},{"x":1.172,"y":0.706},{"x":1.146,"y":0.816},
{"x":1.214,"y":0.576},{"x":1.177,"y":0.696},{"x":1.201,"y":0.786},{"x":1.217,"y":0.606},
{"x":-0.869,"y":-0.854},{"x":-0.927,"y":-1.024},{"x":-0.888,"y":-0.954},{"x":-0.938,"y":-1.114},{"x":-0.879,"y":-0.894},
{"x":-0.806,"y":-1.090},{"x":-0.769,"y":-0.840},{"x":-0.827,"y":-1.010},{"x":-0.788,"y":-0.950},{"x":-0.838,"y":-1.180},
{"x":-0.679,"y":-0.885},{"x":-0.706,"y":-1.015},{"x":-0.669,"y":-0.915},{"x":-0.727,"y":-1.095},{"x":-0.688,"y":-0.985},
{"x":-0.638,"y":-0.802},{"x":-0.579,"y":-1.002},{"x":-0.606,"y":-0.812},{"x":-0.569,"y":-0.982},{"x":-0.627,"y":-0.912},
{"x":-0.488,"y":-0.982},{"x":-0.538,"y":-0.762},{"x":-0.479,"y":-0.932},{"x":-0.506,"y":-0.682},{"x":-0.469,"y":-0.852},
{"x":-0.427,"y":-0.667},{"x":-0.388,"y":-0.897},{"x":-0.438,"y":-0.617},{"x":-0.379,"y":-0.747},{"x":-0.406,"y":-0.647},
{"x":-0.269,"y":-0.675},{"x":-0.327,"y":-0.565},{"x":-0.288,"y":-0.435},{"x":-0.338,"y":-0.635},{"x":-0.279,"y":-0.445},
{"x":-0.206,"y":-0.439},{"x":-0.169,"y":-0.369},{"x":-0.227,"y":-0.529},{"x":-0.188,"y":-0.309},{"x":-0.238,"y":-0.479},
{"x":-0.079,"y":-0.039},{"x":-0.106,"y":-0.209},{"x":-0.069,"y":-0.149},{"x":-0.127,"y":-0.379},{"x":-0.088,"y":-0.099},
{"x":-0.038,"y":-0.030},{"x":0.021,"y":0.070},{"x":-0.006,"y":-0.110},{"x":0.031,"y":0.000},{"x":-0.027,"y":0.130},
{"x":0.112,"y":0.129},{"x":0.062,"y":0.319},{"x":0.121,"y":0.149},{"x":0.094,"y":0.219},{"x":0.131,"y":0.059},
{"x":0.173,"y":0.469},{"x":0.212,"y":0.299},{"x":0.162,"y":0.549},{"x":0.221,"y":0.379},{"x":0.194,"y":0.439},
{"x":0.331,"y":0.385},{"x":0.273,"y":0.665},{"x":0.312,"y":0.535},{"x":0.262,"y":0.635},{"x":0.321,"y":0.455},
{"x":0.394,"y":0.717},{"x":0.431,"y":0.847},{"x":0.373,"y":0.647},{"x":0.412,"y":0.837},{"x":0.362,"y":0.667},
{"x":0.521,"y":0.862},{"x":0.494,"y":0.702},{"x":0.531,"y":0.922},{"x":0.473,"y":0.752},{"x":0.512,"y":1.002},
{"x":0.562,"y":0.922},{"x":0.621,"y":0.982},{"x":0.594,"y":0.752},{"x":0.631,"y":1.032},{"x":0.573,"y":0.902},
{"x":0.712,"y":1.055},{"x":0.662,"y":0.875},{"x":0.721,"y":0.985},{"x":0.694,"y":1.115},{"x":0.731,"y":0.915},
{"x":0.773,"y":1.120},{"x":0.812,"y":0.950},{"x":0.762,"y":1.020},{"x":0.821,"y":0.860},{"x":0.794,"y":1.080},
{"x":0.931,"y":0.884},{"x":0.873,"y":1.134},{"x":0.912,"y":0.964},{"x":0.862,"y":1.024},{"x":0.921,"y":0.794},
{"x":1.031,"y":0.97},{"x":0.973,"y":0.84},{"x":1.012,"y":0.93},{"x":1.121,"y":0.86},{"x":1.083,"y":0.76},{"x":1.104,"y":0.90},{"x":1.226,"y":0.70},{"x":1.188,"y":0.62},{"x":1.207,"y":0.75},{"x":1.318,"y":0.56},{"x":1.281,"y":0.47},{"x":1.297,"y":0.60},
{"x":-1.318,"y":-0.47},{"x":-1.283,"y":-0.57},{"x":-1.216,"y":-0.64},{"x":-1.184,"y":-0.72},{"x":-1.121,"y":-0.84},{"x":-1.087,"y":-0.77},{"x":-1.024,"y":-0.95},{"x":-0.986,"y":-0.87},
{"x":0.814,"y":1.221},{"x":0.872,"y":1.181},{"x":0.635,"y":1.160},{"x":1.094,"y":1.085},{"x":0.493,"y":1.090},{"x":0.332,"y":0.920},{"x":0.924,"y":0.723},{"x":0.619,"y":0.654},{"x":0.241,"y":0.696},{"x":1.365,"y":0.619},{"x":1.193,"y":0.526},{"x":0.092,"y":0.441},{"x":0.115,"y":0.521},{"x":-0.092,"y":0.105},
{"x":-0.757,"y":-1.252},{"x":-1.074,"y":-1.151},{"x":-1.113,"y":-1.055},{"x":-0.769,"y":-1.178},{"x":-0.906,"y":-1.146},{"x":-0.654,"y":-1.146},{"x":-0.432,"y":-1.034},{"x":-0.532,"y":-1.066},{"x":-0.573,"y":-0.544},{"x":-1.285,"y":-0.257},{"x":-1.010,"y":-0.645},{"x":-0.298,"y":-0.832},{"x":-0.917,"y":-0.763},{"x":-0.757,"y":-0.736},
{"x":0.117,"y":-0.086},{"x":3.085,"y":0.036},{"x":3.861,"y":0.835},
{"x":2.730,"y":-0.576},{"x":2.014,"y":-0.685},{"x":1.904,"y":-0.755},{"x":2.260,"y":-0.749},{"x":2.455,"y":-0.728},{"x":2.088,"y":-0.789},{"x":2.122,"y":-0.800},{"x":2.168,"y":-0.837},{"x":2.088,"y":-0.832},{"x":2.443,"y":-0.816},{"x":2.466,"y":-0.858},{"x":2.569,"y":-0.858},{"x":2.581,"y":-0.837},{"x":1.973,"y":-0.906},{"x":2.138,"y":-0.901},{"x":2.099,"y":-0.959},{"x":2.156,"y":-0.959},{"x":2.290,"y":-0.959},{"x":2.535,"y":-0.947},{"x":2.080,"y":-1.023},{"x":2.191,"y":-1.013},{"x":2.294,"y":-1.002},{"x":2.317,"y":-1.050},{"x":2.416,"y":-1.013},{"x":2.156,"y":-1.055},{"x":2.202,"y":-1.071},{"x":2.634,"y":-1.100},
{"x":1.790,"y":-0.560},{"x":1.881,"y":-0.550},{"x":1.870,"y":-0.592},{"x":1.835,"y":-0.645},{"x":1.904,"y":-0.667},{"x":1.915,"y":-0.581},{"x":1.790,"y":-0.438},{"x":1.858,"y":-0.438},{"x":1.893,"y":-0.344},{"x":1.588,"y":-0.340},{"x":1.686,"y":-0.374},{"x":1.767,"y":-0.363},{"x":1.801,"y":-0.289},{"x":1.698,"y":-0.326},{"x":1.640,"y":-0.257},{"x":1.755,"y":-0.209},{"x":1.663,"y":-0.171},{"x":1.721,"y":-0.092},{"x":1.629,"y":-0.108},{"x":1.537,"y":-0.065},{"x":1.583,"y":-0.033},{"x":1.606,"y":0.052},{"x":1.514,"y":0.010},{"x":1.537,"y":0.084},{"x":1.491,"y":0.105},{"x":1.583,"y":0.180},{"x":1.445,"y":0.148},{"x":1.399,"y":0.169},{"x":1.491,"y":0.244},{"x":1.411,"y":0.212},{"x":1.468,"y":0.350},{"x":1.354,"y":0.276},{"x":1.376,"y":0.393},{"x":1.445,"y":0.425},{"x":1.330,"y":0.350},
{"x":1.347,"y":0.46},{"x":1.362,"y":0.39},{"x":1.338,"y":0.50},{"x":1.356,"y":0.36},{"x":1.395,"y":0.30},{"x":1.408,"y":0.37},{"x":1.388,"y":0.28},{"x":1.415,"y":0.33},{"x":1.447,"y":0.27},{"x":1.456,"y":0.20},{"x":1.438,"y":0.30},{"x":1.462,"y":0.25},{"x":1.497,"y":0.17},{"x":1.508,"y":0.12},{"x":1.486,"y":0.19},{"x":1.515,"y":0.14},{"x":1.548,"y":0.06},{"x":1.558,"y":0.02},{"x":1.541,"y":0.10},{"x":1.566,"y":0.03},{"x":1.62,"y":-0.11},{"x":1.69,"y":-0.36},{"x":1.775,"y":-0.445},{"x":1.84,"y":-0.61},{"x":1.855,"y":-0.585},{"x":2.095,"y":-0.795},{"x":2.45,"y":-0.81},{"x":1.60,"y":-0.03},{"x":1.703,"y":-0.23},{"x":1.648,"y":-0.14}
]},
"mark":{"type":"circle","size":250,"color":"#1f77b4","fillOpacity":0.5,"stroke":"#1f77b4","strokeWidth":1.5,"strokeOpacity":0.5},
"encoding":{
"x":{"field":"x","type":"quantitative","scale":{"domain":[-3.585,4.22],"nice":false,"zero":false},
"axis":{"values":[-3,-2,-1,0,1,2,3,4],"format":"d","labelExpr":"replace(datum.label,'-','\u2212')","labelPadding":7,"title":"x","titleX":567,"titleY":72,"titleBaseline":"middle","titleAlign":"center"}},
"y":{"field":"y","type":"quantitative","scale":{"domain":[-1.38,1.348],"nice":false,"zero":false},
"axis":{"values":[-1,-0.5,0,0.5,1],"format":".1f","labelExpr":"replace(datum.label,'-','\u2212')","labelPadding":12,"title":"y","titleX":-112,"titleY":427,"titleAngle":-90,"titleBaseline":"middle","titleAlign":"center"}}
}
}
